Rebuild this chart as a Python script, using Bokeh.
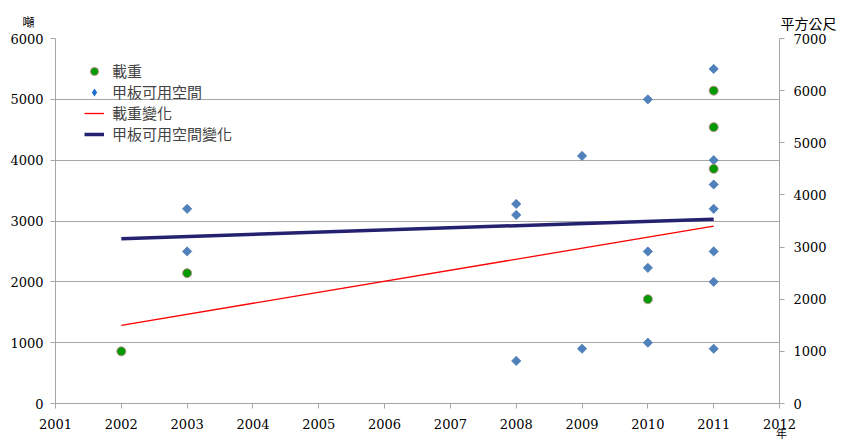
import math
from bokeh.plotting import figure
from bokeh.models import (Range1d, LinearAxis, FixedTicker, Legend, LegendItem,
                          Label)
from bokeh.embed import file_html
from bokeh.resources import INLINE

# ---- data ----
weight_years = [2002, 2003, 2010, 2011, 2011, 2011]
weight_values = [1000, 2500, 2000, 6000, 5300, 4500]          # right axis

deck_years = [2003, 2003, 2008, 2008, 2008, 2009, 2009,
              2010, 2010, 2010, 2010,
              2011, 2011, 2011, 2011, 2011, 2011, 2011]
deck_values = [3200, 2500, 3280, 3100, 700, 4070, 900,
               5000, 2500, 2230, 1000,
               5500, 4000, 3600, 3200, 2500, 2000, 900]       # left axis

trend_years = [2002, 2011]
weight_trend = [1500, 3400]     # right axis
deck_trend = [2710, 3030]       # left axis

x_ticks = list(range(2001, 2013))
left_ticks = [0, 1000, 2000, 3000, 4000, 5000, 6000]
right_ticks = [0, 1000, 2000, 3000, 4000, 5000, 6000, 7000]

label_names = ["載重", "甲板可用空間", "載重變化", "甲板可用空間變化"]
left_title = "噸"
right_title = "平方公尺"
x_title = "年"

CJK = "Noto Sans CJK TC"
SERIF = "DejaVu Serif"
GRID = "#a6a6a6"

p = figure(width=843, height=441, output_backend="svg", toolbar_location=None,
           x_range=Range1d(2001, 2012), y_range=Range1d(0, 6000),
           min_border_left=55, min_border_right=64, min_border_top=38,
           min_border_bottom=38, outline_line_color=None)
p.extra_y_ranges = {"right": Range1d(0, 7000)}

rax = LinearAxis(y_range_name="right", ticker=FixedTicker(ticks=right_ticks))
p.add_layout(rax, "right")

p.xaxis.ticker = FixedTicker(ticks=x_ticks)
p.left[0].ticker = FixedTicker(ticks=left_ticks)
for ax in (p.xaxis[0], p.left[0], rax):
    ax.axis_line_color = GRID
    ax.major_tick_line_color = GRID
    ax.minor_tick_line_color = None
    ax.major_tick_in = 0
    ax.major_tick_out = 5
    ax.major_label_text_font = SERIF
    ax.major_label_text_font_size = "13px"
    ax.major_label_text_color = "#000000"
p.left[0].major_label_standoff = 7
p.xaxis[0].major_label_standoff = 10
rax.major_label_standoff = 9

p.xgrid.visible = False
p.ygrid.ticker = FixedTicker(ticks=left_ticks[1:])
p.ygrid.grid_line_color = GRID
p.ygrid.grid_line_width = 1.2

# trend lines
r_wt = p.line(trend_years, weight_trend, y_range_name="right",
              line_color="#ff0000", line_width=1.3)
r_dt = p.line(trend_years, deck_trend, line_color="#232170", line_width=3.5)

# points
r_deck = p.scatter(deck_years, deck_values, marker="square", angle=math.pi / 4,
                   size=6.5, fill_color="#4f81bd", line_color="#4a78b0",
                   line_width=0.8)
r_w = p.scatter(weight_years, weight_values, y_range_name="right",
                marker="circle", size=9, fill_color="#009900",
                line_color="#b89090", line_width=1)

# legend-only representative diamond (placed outside the visible range)
r_deck_key = p.scatter(x=[1990], y=[-1000], marker="diamond", size=12,
                       fill_color="#1f6fd0", line_color=None)

legend = Legend(items=[
    LegendItem(label=label_names[0], renderers=[r_w]),
    LegendItem(label=label_names[1], renderers=[r_deck_key]),
    LegendItem(label=label_names[2], renderers=[r_wt]),
    LegendItem(label=label_names[3], renderers=[r_dt]),
], location=(29, 259), padding=0, spacing=0, margin=0,
    glyph_width=20, glyph_height=20, label_height=20, label_standoff=8,
    label_text_font=CJK, label_text_font_size="15px",
    border_line_color=None, background_fill_alpha=0)
p.add_layout(legend, "center")

# axis titles placed in the side panels so they are not clipped to the frame
p.add_layout(Label(x=-27, y=17, x_units="screen", y_units="screen",
                   text=left_title, text_font=CJK, text_font_size="12px",
                   text_align="center", text_baseline="middle",
                   text_color="#000000"), "above")
p.add_layout(Label(x=753, y=-1, x_units="screen", y_units="screen",
                   text=right_title, text_font=CJK, text_font_size="14px",
                   text_align="center", text_baseline="middle",
                   text_color="#000000"), "above")
p.add_layout(Label(x=-48, y=-29, x_units="screen", y_units="screen",
                   text=x_title, text_font=CJK, text_font_size="11px",
                   text_align="center", text_baseline="middle",
                   text_color="#000000"), "right")

open("out.html", "w").write(file_html(p, INLINE))
